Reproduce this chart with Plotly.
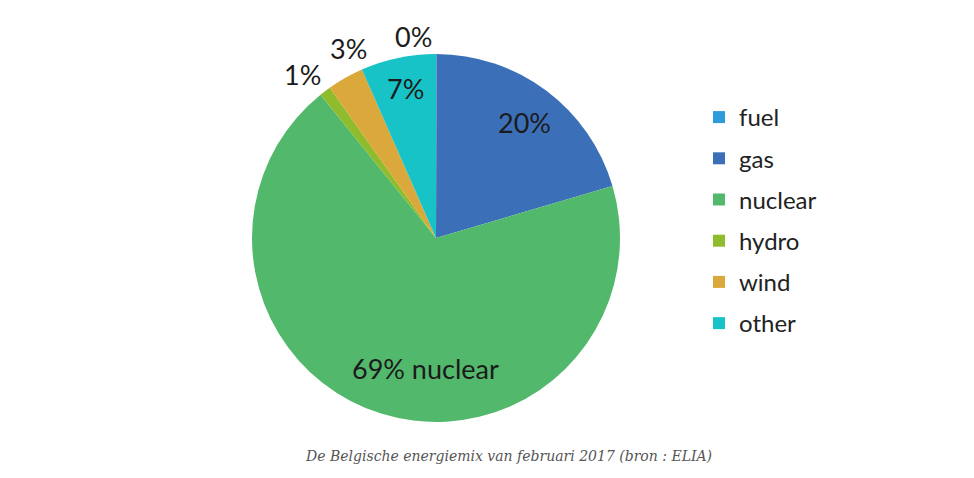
import plotly.graph_objects as go

labels = ["fuel", "gas", "nuclear", "hydro", "wind", "other"]
values = [0.05, 20.4, 68.8, 1.0, 3.2, 6.6]
colors = ["#2E9BDA", "#3B70B9", "#52B86C", "#8FBC2C", "#DBA83B", "#17C3C6"]
label_suffix = ["", "", " nuclear", "", "", ""]
# label anchor positions in pixels (Excel-style data label placement)
label_px = [(413, 37), (524, 123), (425, 368), (302, 74), (348, 48), (405, 88)]
caption = "De Belgische energiemix van februari 2017 (bron : ELIA)"

W, H = 974, 478
cx, cy, r = 436, 238, 184

fig = go.Figure()
fig.add_trace(go.Pie(
    labels=labels, values=values, sort=False, direction="clockwise", rotation=0,
    marker=dict(colors=colors, line=dict(width=0)),
    textinfo="none",
    domain=dict(x=[(cx - r) / W, (cx + r) / W], y=[1 - (cy + r) / H, 1 - (cy - r) / H]),
    showlegend=False, hoverinfo="label+percent", automargin=False,
))

total = sum(values)
for v, suf, (px, py) in zip(values, label_suffix, label_px):
    fig.add_annotation(
        text=f"{round(100 * v / total)}%{suf}", xref="paper", yref="paper",
        x=px / W, y=1 - py / H, showarrow=False, xanchor="center", yanchor="middle",
        font=dict(family="Lato", size=27, color="#1b1b1b"),
    )

for lab, col in zip(labels, colors):
    fig.add_trace(go.Scatter(
        x=[None], y=[None], mode="markers", name=lab, legendgroup=lab,
        marker=dict(symbol="square", size=12, color=col),
    ))

fig.add_annotation(
    text="<i>" + caption + "</i>", xref="paper", yref="paper", x=509 / W, y=1 - 456 / H,
    showarrow=False, xanchor="center", yanchor="middle",
    font=dict(family="DejaVu Serif", size=14, color="#555555"),
)

fig.update_layout(
    width=W, height=H, margin=dict(l=0, r=0, t=0, b=0),
    paper_bgcolor="white", plot_bgcolor="white",
    xaxis=dict(visible=False), yaxis=dict(visible=False),
    legend=dict(x=699 / W, y=1 - 95 / H, xanchor="left", yanchor="top",
                font=dict(family="Lato", size=24, color="#222222"),
                tracegroupgap=7, traceorder="grouped", itemclick=False),
)

fig.write_html("out.html")
